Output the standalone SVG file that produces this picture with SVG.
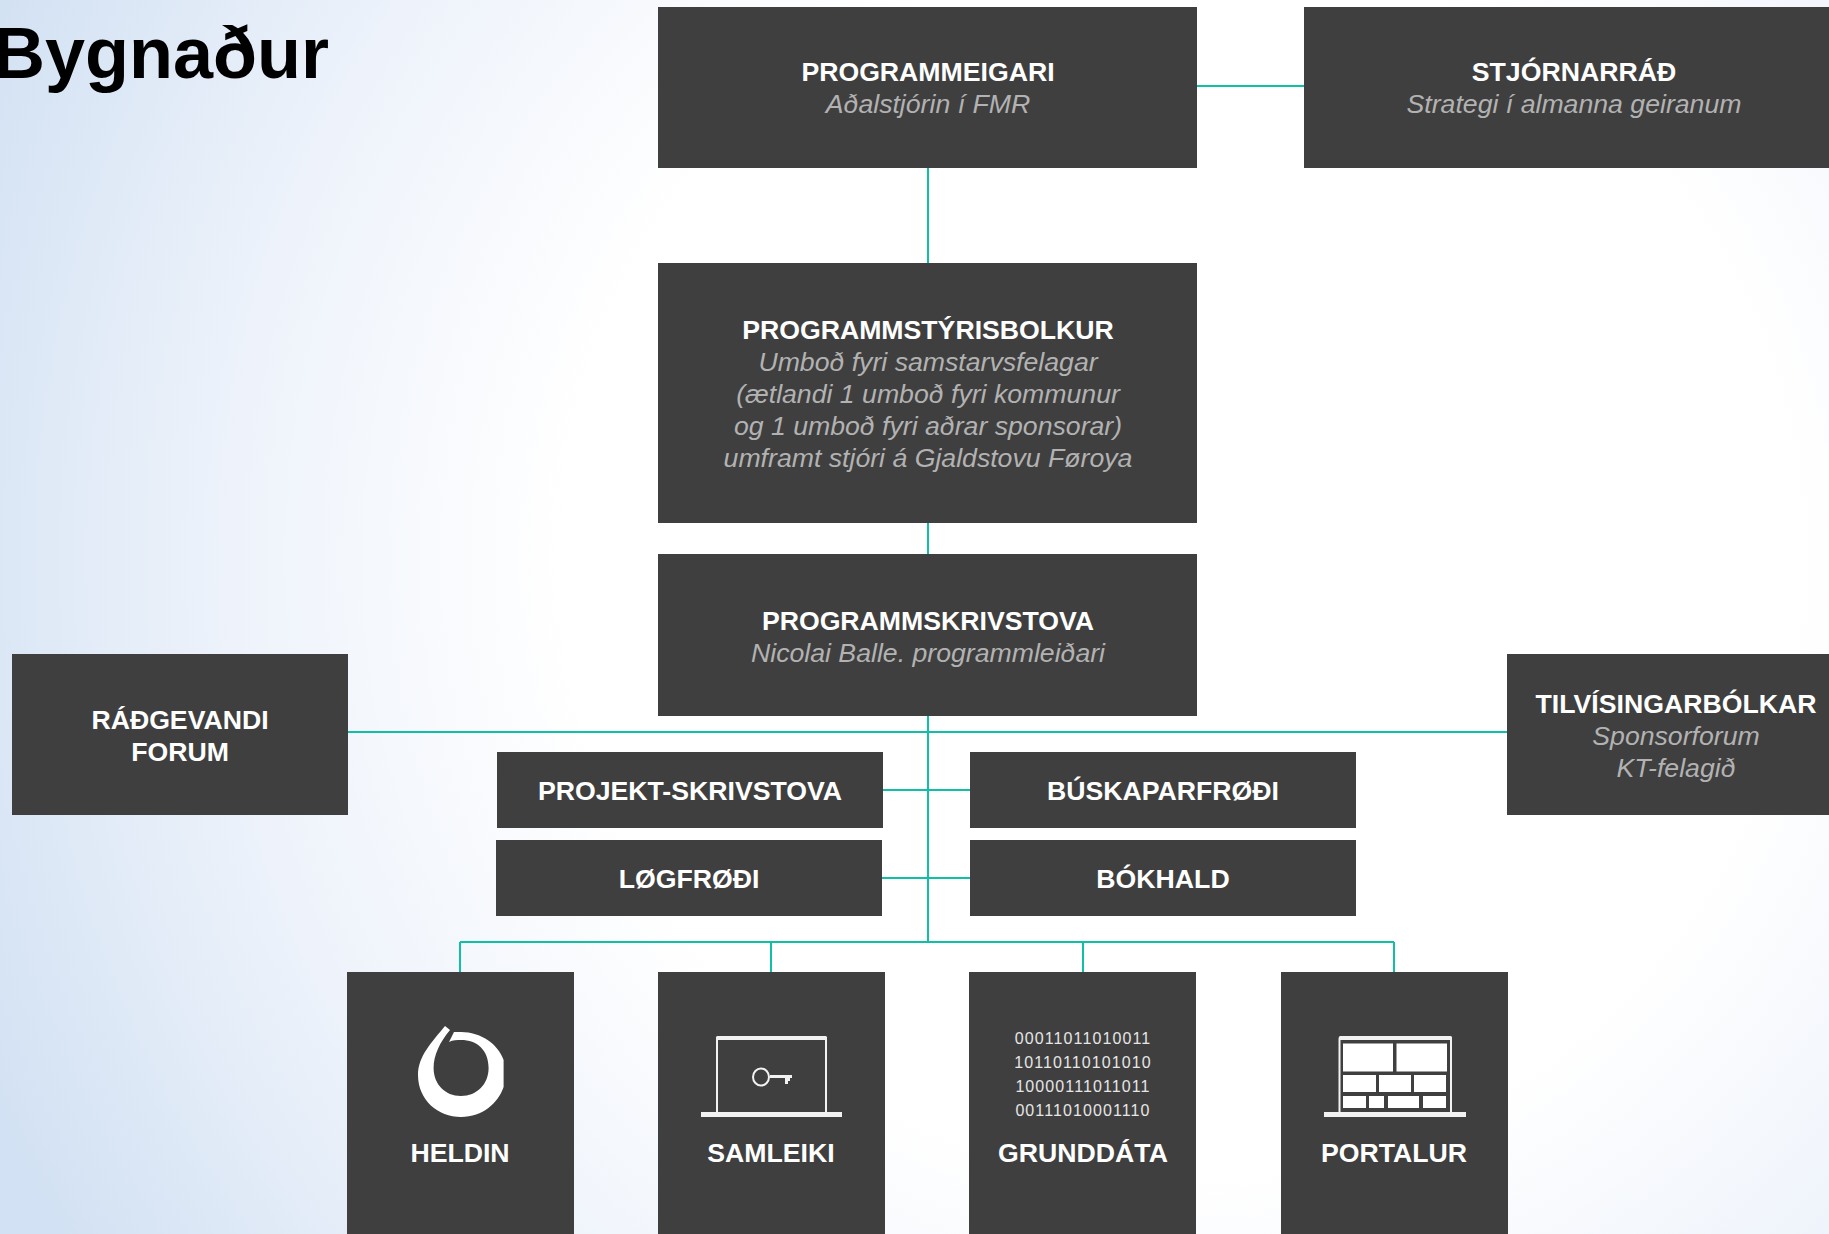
<svg xmlns="http://www.w3.org/2000/svg" width="1829" height="1234" viewBox="0 0 1829 1234">
<style>
.box{fill:#3f3f3f}
.c{fill:none;stroke:#0fbfa6;stroke-width:2}
text{font-family:"Liberation Sans",Arial,sans-serif;font-size:26.67px;text-anchor:middle}
.t{font-weight:700;fill:#fff}
.s{font-style:italic;fill:#b2b2b2}
.d{font-size:16px;letter-spacing:1.1px;fill:#e6e6e6}
.w{fill:#fff}
</style>
<defs>
<radialGradient id="bg" gradientUnits="userSpaceOnUse" cx="1180" cy="560" r="1310">
<stop offset="0.47" stop-color="#fff"/>
<stop offset="0.72" stop-color="#eef3fb"/>
<stop offset="1" stop-color="#d2e1f3"/>
</radialGradient>
</defs>
<rect width="1829" height="1234" fill="url(#bg)"/>
<text id="title" x="-7" y="78" style="font-size:72px;font-weight:700;text-anchor:start;fill:#000">Bygnaður</text>
<g id="connectors">
<path class="c" d="M1197 86H1304M928 168V263M928 523V554M928 716V942M348 732H1507M883 790H970M882 878H970M460 942H1394M460 942V972M771 942V972M1083 942V972M1394 942V972"/>
</g>
<g id="programmeigari"><rect class="box" x="658" y="7" width="539" height="161"/>
<text class="t" x="928" y="81">PROGRAMMEIGARI</text><text class="s" x="928" y="113">Aðalstjórin í FMR</text></g>
<g id="stjornarrad"><rect class="box" x="1304" y="7" width="525" height="161"/>
<text class="t" x="1574" y="81">STJÓRNARRÁÐ</text><text class="s" x="1574" y="113">Strategi í almanna geiranum</text></g>
<g id="programmstyrisbolkur"><rect class="box" x="658" y="263" width="539" height="260"/>
<text class="t" x="928" y="339">PROGRAMMSTÝRISBOLKUR</text>
<text class="s" x="928" y="371">Umboð fyri samstarvsfelagar</text>
<text class="s" x="928" y="403">(ætlandi 1 umboð fyri kommunur</text>
<text class="s" x="928" y="435">og 1 umboð fyri aðrar sponsorar)</text>
<text class="s" x="928" y="467">umframt stjóri á Gjaldstovu Føroya</text></g>
<g id="programmskrivstova"><rect class="box" x="658" y="554" width="539" height="162"/>
<text class="t" x="928" y="630">PROGRAMMSKRIVSTOVA</text><text class="s" x="928" y="662">Nicolai Balle. programmleiðari</text></g>
<g id="radgevandi-forum"><rect class="box" x="12" y="654" width="336" height="161"/>
<text class="t" x="180" y="729">RÁÐGEVANDI</text><text class="t" x="180" y="761">FORUM</text></g>
<g id="tilvisingarbolkar"><rect class="box" x="1507" y="654" width="322" height="161"/>
<text class="t" x="1676" y="713">TILVÍSINGARBÓLKAR</text><text class="s" x="1676" y="745">Sponsorforum</text><text class="s" x="1676" y="777">KT-felagið</text></g>
<g id="projekt-skrivstova"><rect class="box" x="497" y="752" width="386" height="76"/><text class="t" x="690" y="800">PROJEKT-SKRIVSTOVA</text></g>
<g id="buskaparfrodi"><rect class="box" x="970" y="752" width="386" height="76"/><text class="t" x="1163" y="800">BÚSKAPARFRØÐI</text></g>
<g id="logfrodi"><rect class="box" x="496" y="840" width="386" height="76"/><text class="t" x="689" y="888">LØGFRØÐI</text></g>
<g id="bokhald"><rect class="box" x="970" y="840" width="386" height="76"/><text class="t" x="1163" y="888">BÓKHALD</text></g>
<g id="heldin"><rect class="box" x="347" y="972" width="227" height="262"/>
<path class="w" fill-rule="evenodd" d="M445 1026C432 1042 418 1056 418 1075C418 1100 438 1117 461 1117C483 1117 498 1103 503.6 1087V1060C498 1044 481 1032 461 1032H454L449 1042C453 1040 457 1040 461 1040C477 1040 488.6 1050 488.6 1068C488.6 1084 477 1096 461 1096C445 1096 433.6 1084 433.6 1068C433.6 1055 440 1042 450 1030Z"/>
<text class="t" x="460" y="1162">HELDIN</text></g>
<g id="samleiki"><rect class="box" x="658" y="972" width="227" height="262"/>
<path d="M717 1113V1039Q717 1037 719 1037H824Q826 1037 826 1039V1113" fill="none" stroke="#f2f2f2" stroke-width="2"/>
<rect x="716" y="1036" width="111" height="4" rx="1.5" fill="#f2f2f2"/>
<rect x="701" y="1112" width="141" height="5" fill="#f2f2f2"/>
<ellipse cx="761" cy="1077" rx="8" ry="8.5" fill="none" stroke="#f2f2f2" stroke-width="2"/>
<path d="M770 1075H792V1078H790V1081H788V1078H788V1084H785V1078H770Z" fill="#f2f2f2"/>
<text class="t" x="771" y="1162">SAMLEIKI</text></g>
<g id="grunddata"><rect class="box" x="969" y="972" width="227" height="262"/>
<text class="d" x="1083" y="1044">00011011010011</text>
<text class="d" x="1083" y="1068">10110110101010</text>
<text class="d" x="1083" y="1092">10000111011011</text>
<text class="d" x="1083" y="1116">00111010001110</text>
<text class="t" x="1083" y="1162">GRUNDDÁTA</text></g>
<g id="portalur"><rect class="box" x="1281" y="972" width="227" height="262"/>
<path d="M1339.5 1113V1039Q1339.5 1037 1341.500 1037H1449Q1451 1037 1451 1039V1113" fill="none" stroke="#f2f2f2" stroke-width="2"/>
<rect x="1339" y="1036" width="113" height="4" rx="1.5" fill="#f2f2f2"/>
<rect x="1324" y="1112" width="142" height="5" fill="#f2f2f2"/>
<path class="w" d="M1343 1043.500H1393V1071.500H1343ZM1396.500 1043.500H1447V1071.500H1396.500ZM1343 1075H1376V1092H1343ZM1379 1075H1411V1092H1379ZM1414 1075H1446V1092H1414ZM1343 1096H1366V1108H1343ZM1369 1096H1384V1108H1369ZM1388 1096H1419V1108H1388ZM1423 1096H1446V1108H1423Z"/>
<text class="t" x="1394" y="1162">PORTALUR</text></g>
</svg>
